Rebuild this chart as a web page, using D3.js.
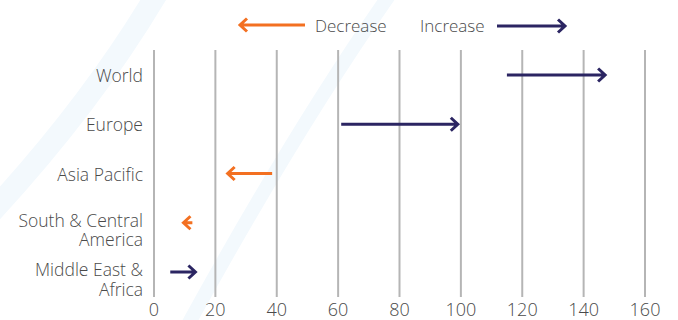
<!DOCTYPE html>
<html>
<head>
<meta charset="utf-8">
<script src="https://cdn.jsdelivr.net/npm/d3@7"></script>
<style>
  body { margin: 0; background: #fff; }
  text { font-family: "Open Sans", "Noto Sans", sans-serif; fill: #4a4a4a; font-weight: 300; }
</style>
</head>
<body>
<div id="chart"></div>
<script>
// data
var regions = ["World", "Europe", "Asia Pacific", "South & Central America", "Middle East & Africa"];
var regionLines = [["World"], ["Europe"], ["Asia Pacific"], ["South & Central", "America"], ["Middle East &", "Africa"]];
var startValues = [115, 61, 38.5, 12.5, 5.3];
var endValues = [147, 99, 24, 9.6, 13.5];
var xTicks = [0, 20, 40, 60, 80, 100, 120, 140, 160];

var W = 678, H = 320;
var orange = "#f37021", navy = "#2b2562";

var svg = d3.select("#chart").append("svg").attr("width", W).attr("height", H);

// faint background swooshes
var bg = svg.append("g").attr("fill", "none").attr("stroke", "#f3f9fd");
bg.append("path").attr("stroke-width", 22).attr("d", "M -30 235 Q 90 110 165 -20");
bg.append("path").attr("stroke-width", 14).attr("d", "M 185 330 Q 300 120 400 -20");

var x = d3.scaleLinear().domain([0, 160]).range([154, 645]);
var y = d3.scalePoint().domain(regions).range([75, 272]);

// gridlines
svg.append("g").selectAll("line").data(xTicks).join("line")
  .attr("x1", d => x(d)).attr("x2", d => x(d))
  .attr("y1", 50).attr("y2", 297)
  .attr("stroke", "#b5b5b5").attr("stroke-width", 2);

// x tick labels
svg.append("g").selectAll("text").data(xTicks).join("text")
  .attr("x", d => x(d)).attr("y", 309)
  .attr("text-anchor", "middle").attr("dominant-baseline", "central")
  .attr("font-size", 18).text(d => d);

// region labels
var lab = svg.append("g").selectAll("text").data(regions).join("text")
  .attr("x", 143).attr("text-anchor", "end").attr("font-size", 17.5)
  .attr("dominant-baseline", "central");
lab.each(function (d, i) {
  var lines = regionLines[i];
  var y0 = lines.length > 1 ? y(d) - 3 : y(d);
  d3.select(this).selectAll("tspan").data(lines).join("tspan")
    .attr("x", 143).attr("y", (l, j) => y0 + j * 19.5).text(l => l);
});

function arrowPath(x0, x1, yy) {
  var dir = x1 >= x0 ? 1 : -1;
  return "M" + x0 + "," + yy + "L" + x1 + "," + yy +
    "M" + (x1 - 7 * dir) + "," + (yy - 6.5) + "L" + x1 + "," + yy + "L" + (x1 - 7 * dir) + "," + (yy + 6.5);
}

// arrows
svg.append("g").selectAll("path").data(regions).join("path")
  .attr("d", (d, i) => arrowPath(x(startValues[i]), x(endValues[i]), y(d)))
  .attr("fill", "none")
  .attr("stroke", (d, i) => endValues[i] >= startValues[i] ? navy : orange)
  .attr("stroke-width", 3);

// legend
var lg = svg.append("g");
lg.append("path").attr("d", arrowPath(305, 240, 25)).attr("fill", "none")
  .attr("stroke", orange).attr("stroke-width", 3);
lg.append("text").attr("x", 315).attr("y", 25).attr("dominant-baseline", "central")
  .attr("font-size", 17).text("Decrease");
lg.append("text").attr("x", 420).attr("y", 25).attr("dominant-baseline", "central")
  .attr("font-size", 17).text("Increase");
lg.append("path").attr("d", arrowPath(497, 565, 26)).attr("fill", "none")
  .attr("stroke", navy).attr("stroke-width", 3);
</script>
</body>
</html>
